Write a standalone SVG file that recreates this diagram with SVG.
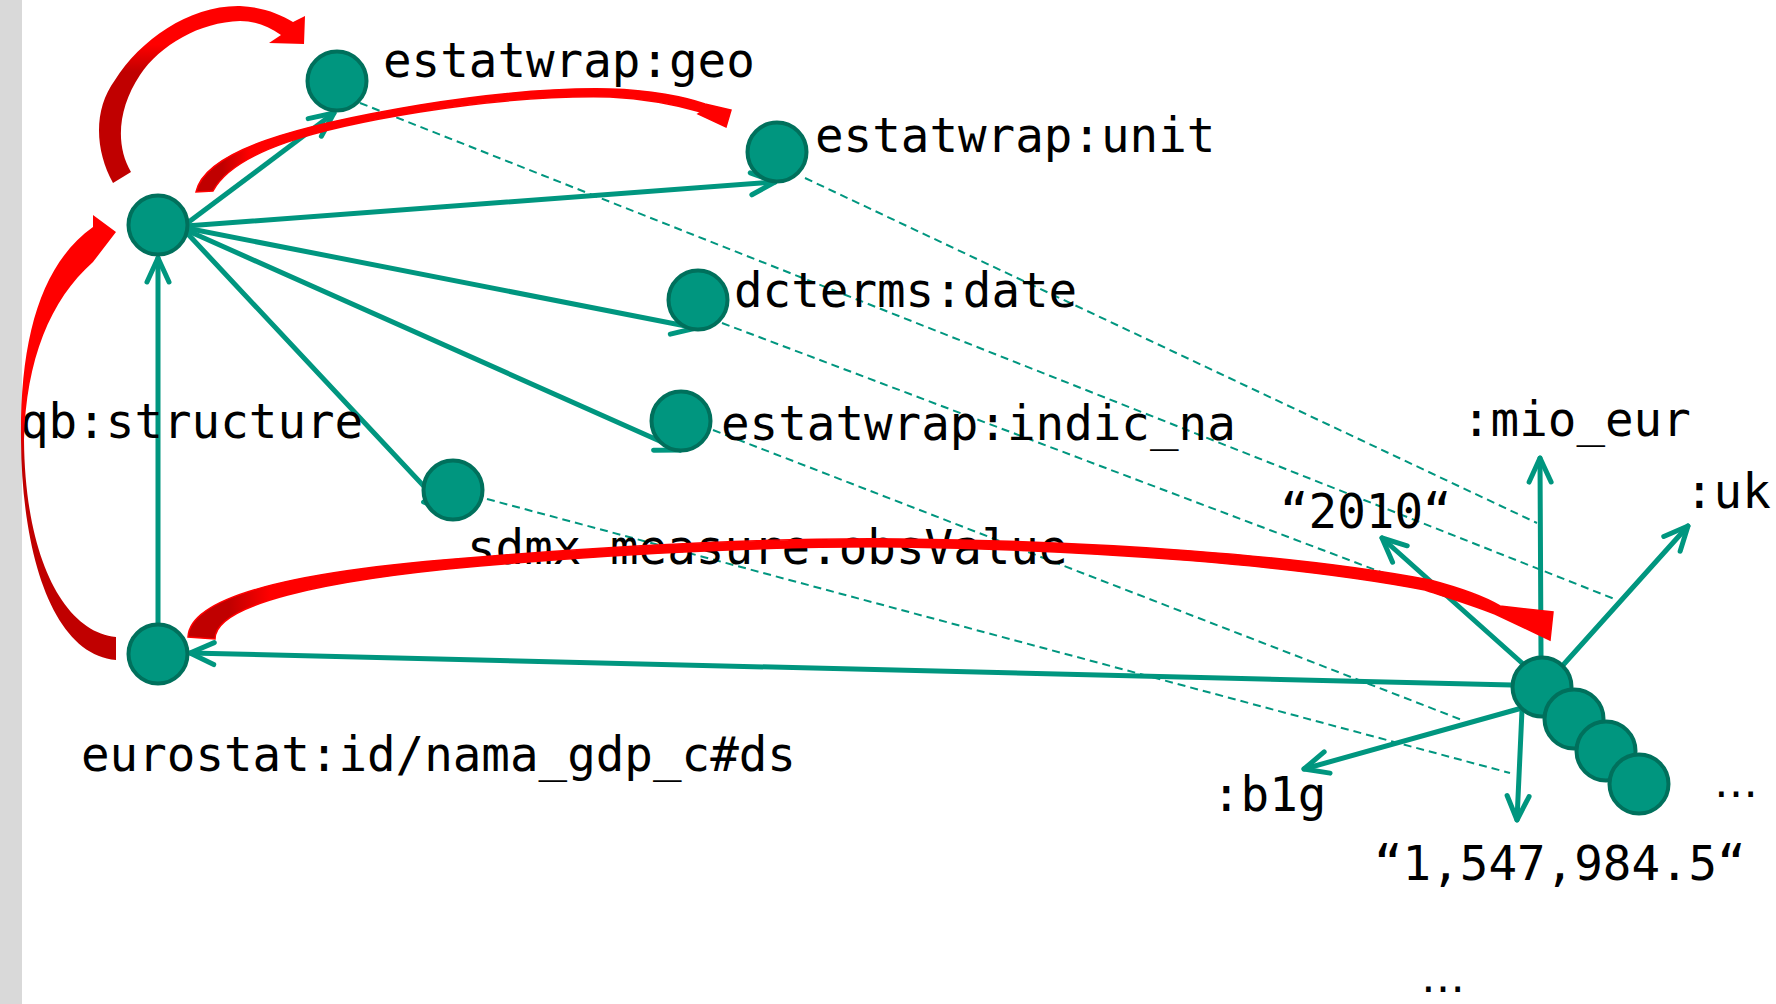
<svg xmlns="http://www.w3.org/2000/svg" width="1776" height="1004" viewBox="0 0 1776 1004">
<style>
.node{fill:#00967f;stroke:#00705c;stroke-width:4}
.edge{fill:none;stroke:#00967f;stroke-width:5;stroke-linecap:round}
.dash{fill:none;stroke:#00967f;stroke-width:2;stroke-dasharray:8 5}
.lbl{font-family:"DejaVu Sans Mono",monospace;font-size:47.5px;fill:#000}
.ell{font-family:"DejaVu Sans",sans-serif;font-size:44px;fill:#000}
</style>
<defs>
<marker id="ah" viewBox="-32 -16 36 32" refX="0" refY="0" markerWidth="36" markerHeight="32" markerUnits="userSpaceOnUse" orient="auto">
<path d="M-24,-11 L0,0 L-24,11" fill="none" stroke="#00967f" stroke-width="5" stroke-linecap="round" stroke-linejoin="round"/>
</marker>
<linearGradient id="g1" gradientUnits="userSpaceOnUse" x1="0" y1="183" x2="0" y2="20">
<stop offset="0" stop-color="#c00000"/><stop offset="0.68" stop-color="#c00000"/><stop offset="0.85" stop-color="#ff0000"/>
</linearGradient>
<linearGradient id="g2" gradientUnits="userSpaceOnUse" x1="195" y1="0" x2="250" y2="0">
<stop offset="0" stop-color="#c00000"/><stop offset="0.5" stop-color="#c00000"/><stop offset="1" stop-color="#ff0000"/>
</linearGradient>
<linearGradient id="g3" gradientUnits="userSpaceOnUse" x1="0" y1="660" x2="0" y2="215">
<stop offset="0" stop-color="#c00000"/><stop offset="0.45" stop-color="#c00000"/><stop offset="0.55" stop-color="#ff0000"/>
</linearGradient>
<linearGradient id="g4" gradientUnits="userSpaceOnUse" x1="188" y1="0" x2="270" y2="0">
<stop offset="0" stop-color="#c00000"/><stop offset="0.5" stop-color="#c00000"/><stop offset="1" stop-color="#ff0000"/>
</linearGradient>
</defs>
<rect x="0" y="0" width="1776" height="1004" fill="#ffffff"/>
<rect x="0" y="0" width="22" height="1004" fill="#d9d9d9"/>

<g id="connectors">
<g id="dashed">
<line class="dash" x1="360" y1="103" x2="1617" y2="600"/>
<line class="dash" x1="805" y1="178" x2="1537" y2="523"/>
<line class="dash" x1="722" y1="323" x2="1447" y2="597"/>
<line class="dash" x1="713" y1="430" x2="1462" y2="720"/>
<line class="dash" x1="487" y1="499" x2="1510" y2="773"/>
</g>
<g id="edges">
<line class="edge" x1="186" y1="224" x2="334" y2="113" marker-end="url(#ah)"/>
<line class="edge" x1="186" y1="226" x2="775" y2="182" marker-end="url(#ah)"/>
<line class="edge" x1="186" y1="228" x2="696" y2="328" marker-end="url(#ah)"/>
<line class="edge" x1="186" y1="230" x2="680" y2="450" marker-end="url(#ah)"/>
<line class="edge" x1="186" y1="232" x2="448" y2="512" marker-end="url(#ah)"/>
<line class="edge" x1="158" y1="623" x2="158" y2="258" marker-end="url(#ah)"/>
<line class="edge" x1="1512" y1="685" x2="190" y2="653" marker-end="url(#ah)"/>
<line class="edge" x1="1522" y1="663" x2="1382" y2="538" marker-end="url(#ah)"/>
<line class="edge" x1="1541" y1="656" x2="1540" y2="458" marker-end="url(#ah)"/>
<line class="edge" x1="1564" y1="664" x2="1688" y2="526" marker-end="url(#ah)"/>
<line class="edge" x1="1522" y1="708" x2="1304" y2="769" marker-end="url(#ah)"/>
<line class="edge" x1="1522" y1="710" x2="1517" y2="820" marker-end="url(#ah)"/>
</g>
</g>

<g id="node-geo"><circle class="node" cx="337" cy="81" r="29.5"/><text class="lbl" x="383" y="77">estatwrap:geo</text></g>
<g id="node-unit"><circle class="node" cx="777" cy="152" r="29.5"/><text class="lbl" x="815" y="152">estatwrap:unit</text></g>
<g id="node-dsd"><circle class="node" cx="158" cy="225" r="29.5"/></g>
<g id="node-date"><circle class="node" cx="698" cy="300" r="29.5"/><text class="lbl" x="734" y="307">dcterms:date</text></g>
<g id="node-indic"><circle class="node" cx="681" cy="421" r="29.5"/><text class="lbl" x="721" y="440">estatwrap:indic_na</text></g>
<g id="node-obsvalue"><circle class="node" cx="453" cy="490" r="29.5"/><text class="lbl" x="467" y="564">sdmx-measure:obsValue</text></g>
<g id="node-dataset"><circle class="node" cx="158" cy="654" r="29.5"/><text class="lbl" x="81" y="771">eurostat:id/nama_gdp_c#ds</text></g>
<g id="label-structure"><text class="lbl" x="20" y="438">qb:structure</text></g>
<g id="node-obs">
<circle class="node" cx="1542" cy="687" r="29.5"/>
<circle class="node" cx="1574" cy="719" r="29.5"/>
<circle class="node" cx="1606" cy="751" r="29.5"/>
<circle class="node" cx="1639" cy="784" r="29.5"/>
<text class="ell" x="1714" y="797">…</text>
</g>
<g id="values">
<text class="lbl" x="1462" y="436">:mio_eur</text>
<text class="lbl" x="1685" y="508">:uk</text>
<text class="lbl" x="1280" y="528">“2010“</text>
<text class="lbl" x="1212" y="811">:b1g</text>
<text class="lbl" x="1374" y="880">“1,547,984.5“</text>
<text class="ell" x="1421" y="992">…</text>
</g>

<g id="red-arrows">
<path fill="url(#g1)" d="M113,183 C95,150 93,110 115,80 C140,40 190,5 240,6 C262,7 280,14 293,22 L305,16 L304,44 L269,43 L281,35 C268,26 255,21 240,21 C200,22 160,45 140,75 C118,108 115,145 131,172 Z"/>
<path fill="url(#g2)" stroke="#ff0000" stroke-width="1.5" d="M196,192 C205,150 300,125 420,105 C500,92 560,88 610,89 C650,90 685,97 705,104 L731,110 L726,127 L698,114 L701,112 C680,106 650,99 610,97 C560,96 500,99 420,112 C320,128 235,150 213,191 Z"/>
<path fill="url(#g3)" d="M116,637 L116,660 C55,655 22,560 21,440 C20,340 40,265 93,227 L93,215 L116,232 L93,262 C50,300 26,360 24,440 C25,560 65,632 116,637 Z"/>
<path fill="url(#g4)" stroke="#ff0000" stroke-width="1.5" d="M188,637 C190,595 300,570 480,557 C650,543 800,538 900,539 C1100,541 1300,555 1430,580 C1460,588 1485,597 1500,606 L1553,612 L1550,640 L1495,614 C1470,604 1440,595 1425,590 C1300,566 1100,550 900,547 C800,546 650,551 480,566 C320,580 215,605 215,639 Z"/>
</g>
</svg>
